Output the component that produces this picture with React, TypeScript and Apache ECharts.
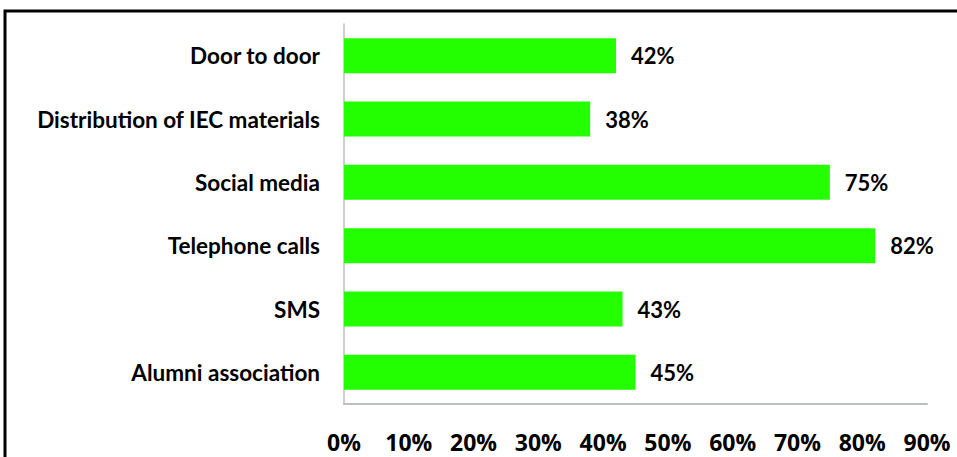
import React, { useEffect, useRef } from "react";
import * as echarts from "echarts";

const categories = [
  "Door to door",
  "Distribution of IEC materials",
  "Social media",
  "Telephone calls",
  "SMS",
  "Alumni association",
];
const values = [42, 38, 75, 82, 43, 45];
const xTicks = { min: 0, max: 90, interval: 10 };

export default function App() {
  const ref = useRef<HTMLDivElement>(null);
  useEffect(() => {
    if (!ref.current) return;
    const chart = echarts.init(ref.current, null, { renderer: "svg" });
    const font = "Lato, 'Open Sans', sans-serif";
    chart.setOption({
      animation: false,
      backgroundColor: "#ffffff",
      graphic: [
        {
          type: "rect",
          shape: { x: 5, y: 11, width: 1000, height: 500 },
          style: { fill: "none", stroke: "#000", lineWidth: 3 },
          silent: true,
        },
      ],
      grid: { left: 344, right: 30, top: 24, bottom: 53 },
      xAxis: {
        type: "value",
        min: xTicks.min,
        max: xTicks.max,
        interval: xTicks.interval,
        splitLine: { show: false },
        axisTick: { show: false },
        axisLine: { show: true, lineStyle: { color: "#b8c0c0", width: 2 } },
        axisLabel: {
          formatter: "{value}%",
          margin: 26,
          fontFamily: "'Liberation Sans Narrow', 'Open Sans', sans-serif",
          fontWeight: "bold",
          fontSize: 23,
          color: "#000",
        },
      },
      yAxis: {
        type: "category",
        inverse: true,
        data: categories,
        axisTick: { show: false },
        axisLine: { show: true, lineStyle: { color: "#b8c0c0", width: 1.5 } },
        axisLabel: {
          margin: 24,
          fontFamily: font,
          fontWeight: "bold",
          fontSize: 22.5,
          color: "#000",
        },
      },
      series: [
        {
          type: "bar",
          data: values,
          barWidth: 35,
          itemStyle: { color: "#24ff00" },
          label: {
            show: true,
            position: "right",
            distance: 15,
            formatter: "{c}%",
            fontFamily: font,
            fontWeight: "bold",
            fontSize: 22,
            color: "#000",
          },
        },
      ],
    });
    return () => chart.dispose();
  }, []);
  return (
    <div
      ref={ref}
      style={{ position: "fixed", left: 0, top: 0, width: 957, height: 457 }}
    />
  );
}
